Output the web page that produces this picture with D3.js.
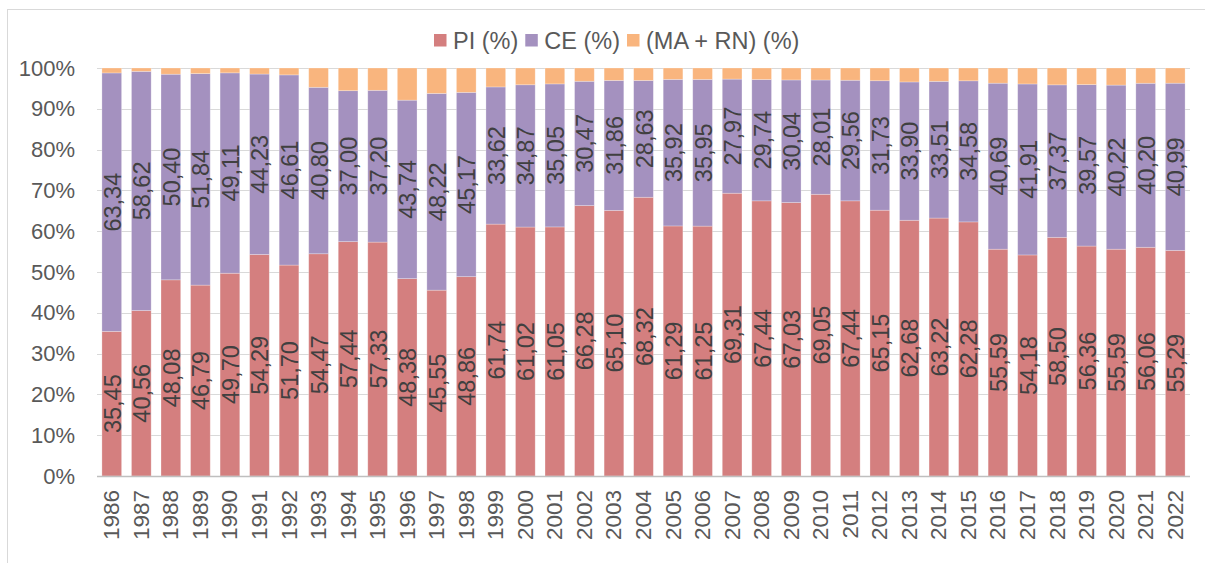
<!DOCTYPE html>
<html>
<head>
<meta charset="utf-8">
<script src="https://cdn.jsdelivr.net/npm/d3@7"></script>
<style>
  body { margin: 0; background: #fff; }
  text { font-family: "Liberation Sans", Arial, sans-serif; }
</style>
</head>
<body>
<div id="chart-area"></div>
<script>
// data
let years = ['1986','1987','1988','1989','1990','1991','1992','1993','1994','1995','1996','1997','1998',
  '1999','2000','2001','2002','2003','2004','2005','2006','2007','2008','2009','2010','2011','2012',
  '2013','2014','2015','2016','2017','2018','2019','2020','2021','2022'];

let pi = [35.45, 40.56, 48.08, 46.79, 49.70, 54.29, 51.70, 54.47, 57.44, 57.33, 48.38, 45.55, 48.86,
  61.74, 61.02, 61.05, 66.28, 65.10, 68.32, 61.29, 61.25, 69.31, 67.44, 67.03, 69.05, 67.44, 65.15,
  62.68, 63.22, 62.28, 55.59, 54.18, 58.50, 56.36, 55.59, 56.06, 55.29];

let ce = [63.34, 58.62, 50.40, 51.84, 49.11, 44.23, 46.61, 40.80, 37.00, 37.20, 43.74, 48.22, 45.17,
  33.62, 34.87, 35.05, 30.47, 31.86, 28.63, 35.92, 35.95, 27.97, 29.74, 30.04, 28.01, 29.56, 31.73,
  33.90, 33.51, 34.58, 40.69, 41.91, 37.37, 39.57, 40.22, 40.20, 40.99];

let marn = [1.21, 0.82, 1.52, 1.37, 1.19, 1.48, 1.69, 4.73, 5.56, 5.47, 7.88, 6.23, 5.97,
  4.64, 4.11, 3.90, 3.25, 3.04, 3.05, 2.79, 2.80, 2.72, 2.82, 2.93, 2.94, 3.00, 3.12,
  3.42, 3.27, 3.14, 3.72, 3.91, 4.13, 4.07, 4.19, 3.74, 3.72];

let seriesNames = ['PI (%)', 'CE (%)', '(MA + RN) (%)'];
let seriesKeys = ['pi', 'ce', 'marn'];
let colors = ['#d47f7f', '#a491bf', '#f9b57e'];
let yTicks = [0, 0.1, 0.2, 0.3, 0.4, 0.5, 0.6, 0.7, 0.8, 0.9, 1];

//************* Canvas Set Up *************//
let W = 1205, H = 563;
let margin = { left: 97, right: 15, top: 68, bottom: 87 };
let width = W - margin.left - margin.right;
let height = H - margin.top - margin.bottom;

let svg = d3.select('#chart-area').append('svg')
  .attr('width', W)
  .attr('height', H);

// outer frame
svg.append('rect')
  .attr('x', 7.5).attr('y', 9.5)
  .attr('width', W + 20).attr('height', H + 20)
  .attr('fill', 'none')
  .attr('stroke', '#d9d9d9');

let g = svg.append('g')
  .attr('transform', 'translate(' + margin.left + ',' + margin.top + ')');

// build rows, normalised to 100%
let rows = years.map((yr, i) => {
  let tot = pi[i] + ce[i] + marn[i];
  return { year: yr, pi: pi[i] / tot, ce: ce[i] / tot, marn: marn[i] / tot, rawPi: pi[i], rawCe: ce[i] };
});

let x = d3.scaleBand()
  .domain(years)
  .range([0, width])
  .paddingInner(1 / 3)
  .paddingOuter(1 / 6);

let y = d3.scaleLinear()
  .domain([0, 1])
  .range([height, 0]);

// gridlines
g.append('g')
  .selectAll('line')
  .data(yTicks)
  .enter()
  .append('line')
    .attr('x1', 0).attr('x2', width)
    .attr('y1', d => Math.round(y(d)) + 0.5)
    .attr('y2', d => Math.round(y(d)) + 0.5)
    .attr('stroke', '#d9d9d9')
    .attr('stroke-width', 1);

// y labels
let yAxisCall = d3.axisLeft(y).tickValues(yTicks).tickFormat(d3.format('.0%')).tickSize(0).tickPadding(22);
let yAxis = g.append('g').call(yAxisCall);
yAxis.select('.domain').remove();
yAxis.selectAll('text')
  .attr('fill', '#595959')
  .attr('font-size', '22px')
  .attr('font-family', '"Liberation Sans", Arial, sans-serif');

// stacked bars
let stack = d3.stack().keys(seriesKeys);
let stacked = stack(rows);

let layers = g.selectAll('.layer')
  .data(stacked)
  .enter()
  .append('g')
    .attr('class', 'layer')
    .attr('fill', (d, i) => colors[i]);

layers.selectAll('rect')
  .data(d => d)
  .enter()
  .append('rect')
    .attr('x', d => x(d.data.year))
    .attr('y', d => y(d[1]))
    .attr('width', x.bandwidth())
    .attr('height', d => y(d[0]) - y(d[1]))
    .attr('stroke', '#ffffff')
    .attr('stroke-opacity', 0.35)
    .attr('stroke-width', 0.75);

// x axis line
g.append('line')
  .attr('x1', 0).attr('x2', width)
  .attr('y1', height + 0.5).attr('y2', height + 0.5)
  .attr('stroke', '#bfbfbf')
  .attr('stroke-width', 1.5);

// year labels
g.append('g')
  .selectAll('text')
  .data(years)
  .enter()
  .append('text')
    .attr('transform', d => 'translate(' + (x(d) + x.bandwidth() / 2) + ',' + (height + 14) + ') rotate(-90)')
    .attr('text-anchor', 'end')
    .attr('dominant-baseline', 'central')
    .attr('font-size', '22.5px')
    .attr('fill', '#595959')
    .text(d => d);

// data labels for PI and CE
let fmt = v => v.toFixed(2).replace('.', ',');
[0, 1].forEach(si => {
  g.append('g')
    .selectAll('text')
    .data(stacked[si])
    .enter()
    .append('text')
      .attr('transform', d => 'translate(' + (x(d.data.year) + x.bandwidth() / 2 + 1) + ',' + ((y(d[0]) + y(d[1])) / 2) + ') rotate(-90)')
      .attr('text-anchor', 'middle')
      .attr('dominant-baseline', 'central')
      .attr('font-size', '23.5px')
      .attr('fill', '#404040')
      .text(d => fmt(si === 0 ? d.data.rawPi : d.data.rawCe));
});

// legend
let legend = svg.append('g').attr('transform', 'translate(0, 40)');
let lx = 434;
seriesNames.forEach((name, i) => {
  let item = legend.append('g').attr('transform', 'translate(' + lx + ',0)');
  item.append('rect')
    .attr('x', 0).attr('y', -6)
    .attr('width', 12.5).attr('height', 12.5)
    .attr('fill', colors[i]);
  let t = item.append('text')
    .attr('x', 19)
    .attr('y', 1)
    .attr('dominant-baseline', 'central')
    .attr('font-size', '23.5px')
    .attr('fill', '#595959')
    .text(name);
  lx += 19 + t.node().getComputedTextLength() + 7;
});
</script>
</body>
</html>
